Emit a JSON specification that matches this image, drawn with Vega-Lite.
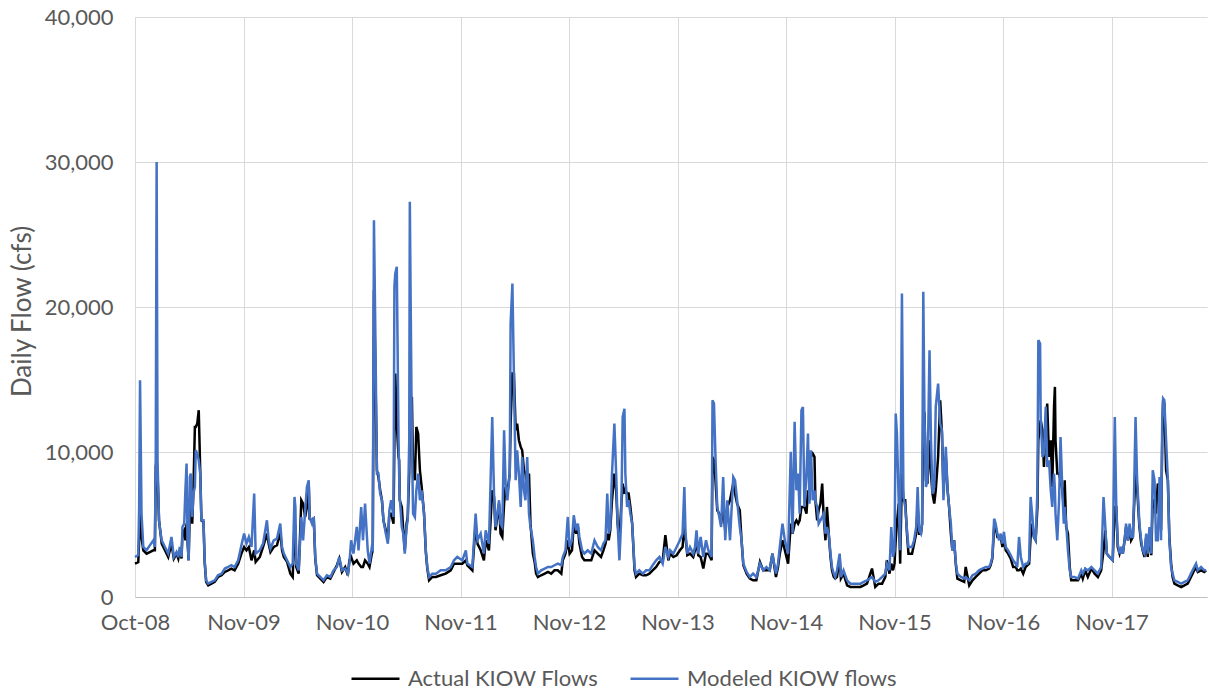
{
"$schema": "https://vega.github.io/schema/vega-lite/v6.json",
"width": 1072,
"height": 580,
"autosize": {"type": "none"},
"padding": {"left": 135, "top": 17, "right": 2, "bottom": 97},
"background": "white",
"config": {"view": {"stroke": null}, "font": "Lato"},
"data": {"values": [
{"date":"2008-10-31","actual":2300,"modeled":2760},
{"date":"2008-11-11","actual":2400,"modeled":2900},
{"date":"2008-11-14","actual":3900,"modeled":6200},
{"date":"2008-11-17","actual":6200,"modeled":14950},
{"date":"2008-11-22","actual":4140,"modeled":5750},
{"date":"2008-11-28","actual":3220,"modeled":3450},
{"date":"2008-12-09","actual":2990,"modeled":3220},
{"date":"2008-12-20","actual":3100,"modeled":3560},
{"date":"2009-01-01","actual":3220,"modeled":3910},
{"date":"2009-01-06","actual":3220,"modeled":3450},
{"date":"2009-01-09","actual":8970,"modeled":9660},
{"date":"2009-01-12","actual":9430,"modeled":30000},
{"date":"2009-01-15","actual":8510,"modeled":9430},
{"date":"2009-01-20","actual":5290,"modeled":5290},
{"date":"2009-01-24","actual":4600,"modeled":4600},
{"date":"2009-01-29","actual":3680,"modeled":3910},
{"date":"2009-02-09","actual":3220,"modeled":3450},
{"date":"2009-02-20","actual":2760,"modeled":2990},
{"date":"2009-03-03","actual":3680,"modeled":4140},
{"date":"2009-03-11","actual":2650,"modeled":2760},
{"date":"2009-03-20","actual":2990,"modeled":3100},
{"date":"2009-03-26","actual":2650,"modeled":2760},
{"date":"2009-03-31","actual":3220,"modeled":3450},
{"date":"2009-04-06","actual":2650,"modeled":2760},
{"date":"2009-04-09","actual":4370,"modeled":4830},
{"date":"2009-04-15","actual":4600,"modeled":5060},
{"date":"2009-04-19","actual":3910,"modeled":7360},
{"date":"2009-04-23","actual":5060,"modeled":9200},
{"date":"2009-04-26","actual":3910,"modeled":3910},
{"date":"2009-04-30","actual":2530,"modeled":2530},
{"date":"2009-05-04","actual":6210,"modeled":8280},
{"date":"2009-05-07","actual":5980,"modeled":8510},
{"date":"2009-05-12","actual":5060,"modeled":5520},
{"date":"2009-05-16","actual":7360,"modeled":7130},
{"date":"2009-05-21","actual":11730,"modeled":7590},
{"date":"2009-05-24","actual":11730,"modeled":10120},
{"date":"2009-05-29","actual":11960,"modeled":9890},
{"date":"2009-06-03","actual":12880,"modeled":9430},
{"date":"2009-06-08","actual":8740,"modeled":8510},
{"date":"2009-06-12","actual":5290,"modeled":5290},
{"date":"2009-06-19","actual":5180,"modeled":5290},
{"date":"2009-06-23","actual":2400,"modeled":2530},
{"date":"2009-06-28","actual":1040,"modeled":1150},
{"date":"2009-07-05","actual":800,"modeled":920},
{"date":"2009-07-16","actual":920,"modeled":1040},
{"date":"2009-07-27","actual":1040,"modeled":1150},
{"date":"2009-08-07","actual":1380,"modeled":1500},
{"date":"2009-08-19","actual":1500,"modeled":1610},
{"date":"2009-08-30","actual":1730,"modeled":1960},
{"date":"2009-09-10","actual":1840,"modeled":2070},
{"date":"2009-09-21","actual":1960,"modeled":2190},
{"date":"2009-10-02","actual":1840,"modeled":2070},
{"date":"2009-10-14","actual":2300,"modeled":2530},
{"date":"2009-10-25","actual":2990,"modeled":3570},
{"date":"2009-11-03","actual":3450,"modeled":4370},
{"date":"2009-11-11","actual":3220,"modeled":3680},
{"date":"2009-11-19","actual":3450,"modeled":4140},
{"date":"2009-11-28","actual":2530,"modeled":3450},
{"date":"2009-12-07","actual":3220,"modeled":7130},
{"date":"2009-12-12","actual":2420,"modeled":2990},
{"date":"2009-12-26","actual":2760,"modeled":3220},
{"date":"2010-01-06","actual":3450,"modeled":3680},
{"date":"2010-01-19","actual":4370,"modeled":5290},
{"date":"2010-01-25","actual":3680,"modeled":3910},
{"date":"2010-01-31","actual":3100,"modeled":3340},
{"date":"2010-02-11","actual":3450,"modeled":3910},
{"date":"2010-02-22","actual":3570,"modeled":4030},
{"date":"2010-03-05","actual":4490,"modeled":5060},
{"date":"2010-03-11","actual":3220,"modeled":3450},
{"date":"2010-03-17","actual":2760,"modeled":2990},
{"date":"2010-03-28","actual":2420,"modeled":2530},
{"date":"2010-04-08","actual":1610,"modeled":2070},
{"date":"2010-04-16","actual":1380,"modeled":2300},
{"date":"2010-04-22","actual":5060,"modeled":6900},
{"date":"2010-04-25","actual":4830,"modeled":6210},
{"date":"2010-04-28","actual":2070,"modeled":2300},
{"date":"2010-05-06","actual":1610,"modeled":1840},
{"date":"2010-05-15","actual":6670,"modeled":5520},
{"date":"2010-05-21","actual":6440,"modeled":3910},
{"date":"2010-05-28","actual":5520,"modeled":5980},
{"date":"2010-06-03","actual":6210,"modeled":7590},
{"date":"2010-06-09","actual":7820,"modeled":8050},
{"date":"2010-06-12","actual":5400,"modeled":5520},
{"date":"2010-06-20","actual":5290,"modeled":5060},
{"date":"2010-06-26","actual":5400,"modeled":5520},
{"date":"2010-07-01","actual":2650,"modeled":2760},
{"date":"2010-07-07","actual":1500,"modeled":1610},
{"date":"2010-07-18","actual":1270,"modeled":1380},
{"date":"2010-07-29","actual":1040,"modeled":1150},
{"date":"2010-08-09","actual":1380,"modeled":1500},
{"date":"2010-08-21","actual":1270,"modeled":1380},
{"date":"2010-09-01","actual":1730,"modeled":1840},
{"date":"2010-09-12","actual":2190,"modeled":2070},
{"date":"2010-09-20","actual":2650,"modeled":2760},
{"date":"2010-09-29","actual":1730,"modeled":1840},
{"date":"2010-10-10","actual":2070,"modeled":1960},
{"date":"2010-10-19","actual":1500,"modeled":1610},
{"date":"2010-10-24","actual":2530,"modeled":2300},
{"date":"2010-10-30","actual":2760,"modeled":3910},
{"date":"2010-11-07","actual":2300,"modeled":2990},
{"date":"2010-11-18","actual":2530,"modeled":4830},
{"date":"2010-11-24","actual":2300,"modeled":3220},
{"date":"2010-12-03","actual":2070,"modeled":6210},
{"date":"2010-12-09","actual":2070,"modeled":3910},
{"date":"2010-12-16","actual":2530,"modeled":6440},
{"date":"2010-12-25","actual":2300,"modeled":3220},
{"date":"2010-12-31","actual":2070,"modeled":2300},
{"date":"2011-01-08","actual":2990,"modeled":3450},
{"date":"2011-01-11","actual":3220,"modeled":3340},
{"date":"2011-01-15","actual":21160,"modeled":25990},
{"date":"2011-01-20","actual":15410,"modeled":17710},
{"date":"2011-01-25","actual":8740,"modeled":8510},
{"date":"2011-01-30","actual":8280,"modeled":8510},
{"date":"2011-02-05","actual":7360,"modeled":7130},
{"date":"2011-02-11","actual":6670,"modeled":6670},
{"date":"2011-02-16","actual":5290,"modeled":5290},
{"date":"2011-02-24","actual":4600,"modeled":4370},
{"date":"2011-03-03","actual":3910,"modeled":3680},
{"date":"2011-03-08","actual":5750,"modeled":5980},
{"date":"2011-03-14","actual":5750,"modeled":6670},
{"date":"2011-03-22","actual":5060,"modeled":5520},
{"date":"2011-03-25","actual":10810,"modeled":21390},
{"date":"2011-03-28","actual":15410,"modeled":22310},
{"date":"2011-04-02","actual":11960,"modeled":22770},
{"date":"2011-04-08","actual":9660,"modeled":10810},
{"date":"2011-04-10","actual":9430,"modeled":8510},
{"date":"2011-04-12","actual":6670,"modeled":6900},
{"date":"2011-04-19","actual":6210,"modeled":4830},
{"date":"2011-04-24","actual":4600,"modeled":4370},
{"date":"2011-04-29","actual":3220,"modeled":2990},
{"date":"2011-05-05","actual":5060,"modeled":4830},
{"date":"2011-05-09","actual":5520,"modeled":5290},
{"date":"2011-05-14","actual":8510,"modeled":10810},
{"date":"2011-05-16","actual":11960,"modeled":27250},
{"date":"2011-05-19","actual":13570,"modeled":20010},
{"date":"2011-05-23","actual":13800,"modeled":10810},
{"date":"2011-05-27","actual":8510,"modeled":5750},
{"date":"2011-06-02","actual":8050,"modeled":5520},
{"date":"2011-06-07","actual":11730,"modeled":7360},
{"date":"2011-06-13","actual":11270,"modeled":8510},
{"date":"2011-06-19","actual":8740,"modeled":6670},
{"date":"2011-06-25","actual":7590,"modeled":7360},
{"date":"2011-07-03","actual":5750,"modeled":5750},
{"date":"2011-07-09","actual":3100,"modeled":3220},
{"date":"2011-07-14","actual":1960,"modeled":2070},
{"date":"2011-07-20","actual":1150,"modeled":1380},
{"date":"2011-07-31","actual":1380,"modeled":1610},
{"date":"2011-08-12","actual":1380,"modeled":1610},
{"date":"2011-08-28","actual":1500,"modeled":1840},
{"date":"2011-09-14","actual":1610,"modeled":1840},
{"date":"2011-10-01","actual":1840,"modeled":2070},
{"date":"2011-10-12","actual":2300,"modeled":2530},
{"date":"2011-10-23","actual":2300,"modeled":2760},
{"date":"2011-11-09","actual":2300,"modeled":2530},
{"date":"2011-11-21","actual":2530,"modeled":3220},
{"date":"2011-11-26","actual":2190,"modeled":2300},
{"date":"2011-12-13","actual":1840,"modeled":2070},
{"date":"2011-12-24","actual":5060,"modeled":5750},
{"date":"2011-12-30","actual":3680,"modeled":3910},
{"date":"2012-01-10","actual":3220,"modeled":4370},
{"date":"2012-01-21","actual":2530,"modeled":2990},
{"date":"2012-01-27","actual":3910,"modeled":4600},
{"date":"2012-02-07","actual":3220,"modeled":3680},
{"date":"2012-02-18","actual":7360,"modeled":12420},
{"date":"2012-02-24","actual":6900,"modeled":7130},
{"date":"2012-02-29","actual":4600,"modeled":4830},
{"date":"2012-03-06","actual":5520,"modeled":5750},
{"date":"2012-03-12","actual":6440,"modeled":6670},
{"date":"2012-03-17","actual":4370,"modeled":5060},
{"date":"2012-03-23","actual":4140,"modeled":4830},
{"date":"2012-03-29","actual":6440,"modeled":11500},
{"date":"2012-04-03","actual":7590,"modeled":7820},
{"date":"2012-04-09","actual":7130,"modeled":6670},
{"date":"2012-04-17","actual":8510,"modeled":8510},
{"date":"2012-04-20","actual":11960,"modeled":18860},
{"date":"2012-04-26","actual":15410,"modeled":21620},
{"date":"2012-05-01","actual":15410,"modeled":15410},
{"date":"2012-05-07","actual":11500,"modeled":8050},
{"date":"2012-05-12","actual":11960,"modeled":10120},
{"date":"2012-05-18","actual":10810,"modeled":8510},
{"date":"2012-05-24","actual":10350,"modeled":6210},
{"date":"2012-05-29","actual":10120,"modeled":9660},
{"date":"2012-06-04","actual":8740,"modeled":7360},
{"date":"2012-06-09","actual":8510,"modeled":6670},
{"date":"2012-06-15","actual":7360,"modeled":9660},
{"date":"2012-06-21","actual":8510,"modeled":5750},
{"date":"2012-06-26","actual":5060,"modeled":4830},
{"date":"2012-07-04","actual":2990,"modeled":3910},
{"date":"2012-07-10","actual":2420,"modeled":2760},
{"date":"2012-07-15","actual":1610,"modeled":2070},
{"date":"2012-07-21","actual":1380,"modeled":1610},
{"date":"2012-08-01","actual":1500,"modeled":1840},
{"date":"2012-08-13","actual":1610,"modeled":1960},
{"date":"2012-08-24","actual":1730,"modeled":2070},
{"date":"2012-09-04","actual":1610,"modeled":2070},
{"date":"2012-09-15","actual":1840,"modeled":2190},
{"date":"2012-09-26","actual":1840,"modeled":2300},
{"date":"2012-10-08","actual":1610,"modeled":2190},
{"date":"2012-10-13","actual":2530,"modeled":2760},
{"date":"2012-10-22","actual":2990,"modeled":3220},
{"date":"2012-10-30","actual":3910,"modeled":5520},
{"date":"2012-11-05","actual":2990,"modeled":3450},
{"date":"2012-11-13","actual":3220,"modeled":3910},
{"date":"2012-11-19","actual":5060,"modeled":5640},
{"date":"2012-11-27","actual":4370,"modeled":4600},
{"date":"2012-12-03","actual":4830,"modeled":5060},
{"date":"2012-12-08","actual":3680,"modeled":4140},
{"date":"2012-12-17","actual":2760,"modeled":3220},
{"date":"2012-12-25","actual":2530,"modeled":2990},
{"date":"2013-01-05","actual":2530,"modeled":3220},
{"date":"2013-01-17","actual":2530,"modeled":2990},
{"date":"2013-01-28","actual":3220,"modeled":3910},
{"date":"2013-02-08","actual":2990,"modeled":3450},
{"date":"2013-02-19","actual":2760,"modeled":3220},
{"date":"2013-02-27","actual":3220,"modeled":3680},
{"date":"2013-03-06","actual":3680,"modeled":3910},
{"date":"2013-03-12","actual":4370,"modeled":7130},
{"date":"2013-03-17","actual":3910,"modeled":4370},
{"date":"2013-03-22","actual":4600,"modeled":4830},
{"date":"2013-03-28","actual":6670,"modeled":8510},
{"date":"2013-04-05","actual":8510,"modeled":11960},
{"date":"2013-04-11","actual":7360,"modeled":8510},
{"date":"2013-04-16","actual":5060,"modeled":5060},
{"date":"2013-04-22","actual":3910,"modeled":2530},
{"date":"2013-04-28","actual":6210,"modeled":5290},
{"date":"2013-05-03","actual":7820,"modeled":12420},
{"date":"2013-05-09","actual":7130,"modeled":12990},
{"date":"2013-05-12","actual":7360,"modeled":8510},
{"date":"2013-05-18","actual":7130,"modeled":6210},
{"date":"2013-05-23","actual":7130,"modeled":6670},
{"date":"2013-05-29","actual":6210,"modeled":5750},
{"date":"2013-06-04","actual":5060,"modeled":5060},
{"date":"2013-06-12","actual":1840,"modeled":2070},
{"date":"2013-06-17","actual":1380,"modeled":1610},
{"date":"2013-06-28","actual":1610,"modeled":1840},
{"date":"2013-07-10","actual":1500,"modeled":1610},
{"date":"2013-07-21","actual":1500,"modeled":1840},
{"date":"2013-08-01","actual":1610,"modeled":1840},
{"date":"2013-08-12","actual":1840,"modeled":2190},
{"date":"2013-08-24","actual":2070,"modeled":2530},
{"date":"2013-09-04","actual":2420,"modeled":2760},
{"date":"2013-09-15","actual":2530,"modeled":2300},
{"date":"2013-09-24","actual":4260,"modeled":3450},
{"date":"2013-10-04","actual":2530,"modeled":2760},
{"date":"2013-10-10","actual":2990,"modeled":3220},
{"date":"2013-10-21","actual":2760,"modeled":2990},
{"date":"2013-11-01","actual":2880,"modeled":3450},
{"date":"2013-11-12","actual":3220,"modeled":3910},
{"date":"2013-11-21","actual":3450,"modeled":4370},
{"date":"2013-11-27","actual":4830,"modeled":7590},
{"date":"2013-12-01","actual":4140,"modeled":4370},
{"date":"2013-12-07","actual":2880,"modeled":2990},
{"date":"2013-12-16","actual":2990,"modeled":3450},
{"date":"2013-12-27","actual":2760,"modeled":2990},
{"date":"2014-01-02","actual":3220,"modeled":3450},
{"date":"2014-01-07","actual":3910,"modeled":4600},
{"date":"2014-01-13","actual":2880,"modeled":2990},
{"date":"2014-01-21","actual":2760,"modeled":4140},
{"date":"2014-01-30","actual":1960,"modeled":2760},
{"date":"2014-02-08","actual":2990,"modeled":3910},
{"date":"2014-02-16","actual":2990,"modeled":3220},
{"date":"2014-02-27","actual":2530,"modeled":2760},
{"date":"2014-03-02","actual":9660,"modeled":13570},
{"date":"2014-03-07","actual":9430,"modeled":13340},
{"date":"2014-03-12","actual":8050,"modeled":9660},
{"date":"2014-03-18","actual":5980,"modeled":6210},
{"date":"2014-03-25","actual":5750,"modeled":5520},
{"date":"2014-03-31","actual":5060,"modeled":4830},
{"date":"2014-04-07","actual":6210,"modeled":8280},
{"date":"2014-04-14","actual":4600,"modeled":3910},
{"date":"2014-04-21","actual":6210,"modeled":6670},
{"date":"2014-04-30","actual":6670,"modeled":3910},
{"date":"2014-05-11","actual":7820,"modeled":8280},
{"date":"2014-05-17","actual":7130,"modeled":8050},
{"date":"2014-05-24","actual":6440,"modeled":6670},
{"date":"2014-06-02","actual":5980,"modeled":4830},
{"date":"2014-06-08","actual":3910,"modeled":3910},
{"date":"2014-06-14","actual":2190,"modeled":2300},
{"date":"2014-06-25","actual":1610,"modeled":1730},
{"date":"2014-07-06","actual":1270,"modeled":1380},
{"date":"2014-07-17","actual":1150,"modeled":1610},
{"date":"2014-07-28","actual":1150,"modeled":1380},
{"date":"2014-08-09","actual":2420,"modeled":2300},
{"date":"2014-08-20","actual":1840,"modeled":1840},
{"date":"2014-08-31","actual":1840,"modeled":2070},
{"date":"2014-09-11","actual":1840,"modeled":1840},
{"date":"2014-09-20","actual":2990,"modeled":2990},
{"date":"2014-10-02","actual":1380,"modeled":1610},
{"date":"2014-10-09","actual":2070,"modeled":2300},
{"date":"2014-10-15","actual":2990,"modeled":3450},
{"date":"2014-10-24","actual":3910,"modeled":5060},
{"date":"2014-11-01","actual":3220,"modeled":3910},
{"date":"2014-11-12","actual":2300,"modeled":2990},
{"date":"2014-11-21","actual":5060,"modeled":10010},
{"date":"2014-11-27","actual":4370,"modeled":4370},
{"date":"2014-12-04","actual":5060,"modeled":12080},
{"date":"2014-12-10","actual":5290,"modeled":7360},
{"date":"2014-12-16","actual":5060,"modeled":8510},
{"date":"2014-12-21","actual":5290,"modeled":5750},
{"date":"2014-12-27","actual":6210,"modeled":12880},
{"date":"2015-01-01","actual":6210,"modeled":13110},
{"date":"2015-01-06","actual":6210,"modeled":6210},
{"date":"2015-01-13","actual":5750,"modeled":8510},
{"date":"2015-01-18","actual":7360,"modeled":11270},
{"date":"2015-01-23","actual":6670,"modeled":6440},
{"date":"2015-01-28","actual":9660,"modeled":10120},
{"date":"2015-02-03","actual":9890,"modeled":6670},
{"date":"2015-02-09","actual":9660,"modeled":7360},
{"date":"2015-02-12","actual":6670,"modeled":6670},
{"date":"2015-02-18","actual":5290,"modeled":6210},
{"date":"2015-02-23","actual":5980,"modeled":5060},
{"date":"2015-03-01","actual":6440,"modeled":5290},
{"date":"2015-03-07","actual":7820,"modeled":5520},
{"date":"2015-03-12","actual":5520,"modeled":5750},
{"date":"2015-03-18","actual":3910,"modeled":4370},
{"date":"2015-03-23","actual":6210,"modeled":4830},
{"date":"2015-03-29","actual":4370,"modeled":4370},
{"date":"2015-04-04","actual":2760,"modeled":2990},
{"date":"2015-04-09","actual":1840,"modeled":2070},
{"date":"2015-04-15","actual":1380,"modeled":1610},
{"date":"2015-04-20","actual":1270,"modeled":1380},
{"date":"2015-04-26","actual":1380,"modeled":1840},
{"date":"2015-05-05","actual":2760,"modeled":2990},
{"date":"2015-05-09","actual":1270,"modeled":1380},
{"date":"2015-05-18","actual":1610,"modeled":1840},
{"date":"2015-05-30","actual":800,"modeled":1150},
{"date":"2015-06-10","actual":690,"modeled":920},
{"date":"2015-06-21","actual":690,"modeled":920},
{"date":"2015-07-02","actual":690,"modeled":920},
{"date":"2015-07-14","actual":690,"modeled":920},
{"date":"2015-07-25","actual":800,"modeled":1040},
{"date":"2015-08-05","actual":920,"modeled":1150},
{"date":"2015-08-22","actual":1960,"modeled":1380},
{"date":"2015-09-02","actual":690,"modeled":1040},
{"date":"2015-09-13","actual":920,"modeled":1150},
{"date":"2015-09-25","actual":920,"modeled":1380},
{"date":"2015-10-06","actual":1380,"modeled":1610},
{"date":"2015-10-11","actual":2530,"modeled":2300},
{"date":"2015-10-20","actual":1610,"modeled":1840},
{"date":"2015-10-26","actual":2300,"modeled":4830},
{"date":"2015-11-01","actual":1840,"modeled":2760},
{"date":"2015-11-06","actual":2300,"modeled":3220},
{"date":"2015-11-10","actual":3910,"modeled":12650},
{"date":"2015-11-14","actual":5060,"modeled":11270},
{"date":"2015-11-20","actual":6440,"modeled":6670},
{"date":"2015-11-25","actual":2300,"modeled":3220},
{"date":"2015-12-01","actual":8510,"modeled":20930},
{"date":"2015-12-06","actual":6670,"modeled":6900},
{"date":"2015-12-12","actual":6670,"modeled":6210},
{"date":"2015-12-18","actual":4370,"modeled":4600},
{"date":"2015-12-23","actual":2990,"modeled":3450},
{"date":"2016-01-04","actual":2990,"modeled":3450},
{"date":"2016-01-11","actual":3680,"modeled":3910},
{"date":"2016-01-18","actual":4370,"modeled":4830},
{"date":"2016-01-23","actual":6210,"modeled":7590},
{"date":"2016-01-28","actual":4370,"modeled":4600},
{"date":"2016-02-03","actual":4370,"modeled":4370},
{"date":"2016-02-07","actual":5060,"modeled":5060},
{"date":"2016-02-11","actual":12650,"modeled":21050},
{"date":"2016-02-15","actual":12650,"modeled":12420},
{"date":"2016-02-20","actual":8050,"modeled":7590},
{"date":"2016-02-25","actual":7820,"modeled":8050},
{"date":"2016-03-03","actual":10810,"modeled":17020},
{"date":"2016-03-08","actual":8510,"modeled":10810},
{"date":"2016-03-13","actual":7130,"modeled":7130},
{"date":"2016-03-19","actual":6440,"modeled":7590},
{"date":"2016-03-24","actual":7360,"modeled":13110},
{"date":"2016-04-01","actual":9660,"modeled":14720},
{"date":"2016-04-08","actual":13570,"modeled":11960},
{"date":"2016-04-14","actual":11270,"modeled":11500},
{"date":"2016-04-19","actual":7360,"modeled":6670},
{"date":"2016-04-27","actual":9660,"modeled":10350},
{"date":"2016-05-03","actual":7360,"modeled":7360},
{"date":"2016-05-08","actual":6210,"modeled":6210},
{"date":"2016-05-14","actual":4370,"modeled":5060},
{"date":"2016-05-19","actual":3220,"modeled":3220},
{"date":"2016-05-25","actual":3910,"modeled":3910},
{"date":"2016-05-31","actual":2190,"modeled":2300},
{"date":"2016-06-05","actual":1270,"modeled":1610},
{"date":"2016-06-17","actual":1150,"modeled":1380},
{"date":"2016-06-28","actual":1040,"modeled":1270},
{"date":"2016-07-03","actual":2070,"modeled":1380},
{"date":"2016-07-15","actual":800,"modeled":1150},
{"date":"2016-07-26","actual":1150,"modeled":1500},
{"date":"2016-08-06","actual":1380,"modeled":1610},
{"date":"2016-08-17","actual":1610,"modeled":1840},
{"date":"2016-08-28","actual":1840,"modeled":1960},
{"date":"2016-09-09","actual":1840,"modeled":2070},
{"date":"2016-09-20","actual":1960,"modeled":2070},
{"date":"2016-09-25","actual":2190,"modeled":2300},
{"date":"2016-10-01","actual":2650,"modeled":2760},
{"date":"2016-10-07","actual":4830,"modeled":5400},
{"date":"2016-10-12","actual":4830,"modeled":5060},
{"date":"2016-10-18","actual":4140,"modeled":4370},
{"date":"2016-10-24","actual":4140,"modeled":3910},
{"date":"2016-10-29","actual":4140,"modeled":4370},
{"date":"2016-11-04","actual":3450,"modeled":3680},
{"date":"2016-11-09","actual":4140,"modeled":4490},
{"date":"2016-11-15","actual":3220,"modeled":3450},
{"date":"2016-11-23","actual":2990,"modeled":3220},
{"date":"2016-12-02","actual":2650,"modeled":2880},
{"date":"2016-12-10","actual":2070,"modeled":2530},
{"date":"2016-12-19","actual":2070,"modeled":2300},
{"date":"2016-12-24","actual":1840,"modeled":2070},
{"date":"2016-12-30","actual":1840,"modeled":4140},
{"date":"2017-01-05","actual":1960,"modeled":2760},
{"date":"2017-01-13","actual":1610,"modeled":2070},
{"date":"2017-01-21","actual":2070,"modeled":2300},
{"date":"2017-01-27","actual":2190,"modeled":2300},
{"date":"2017-02-02","actual":2300,"modeled":2530},
{"date":"2017-02-07","actual":4140,"modeled":6900},
{"date":"2017-02-13","actual":5060,"modeled":5520},
{"date":"2017-02-18","actual":4140,"modeled":4140},
{"date":"2017-02-24","actual":3910,"modeled":3910},
{"date":"2017-03-02","actual":6210,"modeled":7360},
{"date":"2017-03-05","actual":10810,"modeled":17710},
{"date":"2017-03-11","actual":11960,"modeled":17480},
{"date":"2017-03-13","actual":12190,"modeled":12420},
{"date":"2017-03-19","actual":11500,"modeled":9660},
{"date":"2017-03-24","actual":8970,"modeled":9890},
{"date":"2017-03-30","actual":11960,"modeled":13110},
{"date":"2017-04-04","actual":13340,"modeled":8970},
{"date":"2017-04-10","actual":9660,"modeled":9430},
{"date":"2017-04-16","actual":10810,"modeled":7360},
{"date":"2017-04-21","actual":7590,"modeled":6210},
{"date":"2017-04-27","actual":13110,"modeled":8510},
{"date":"2017-04-30","actual":14490,"modeled":7360},
{"date":"2017-05-02","actual":10810,"modeled":5750},
{"date":"2017-05-08","actual":8510,"modeled":3910},
{"date":"2017-05-14","actual":8510,"modeled":6670},
{"date":"2017-05-19","actual":8050,"modeled":11040},
{"date":"2017-05-25","actual":7360,"modeled":7360},
{"date":"2017-05-30","actual":6210,"modeled":5060},
{"date":"2017-06-02","actual":8050,"modeled":6210},
{"date":"2017-06-07","actual":4830,"modeled":5060},
{"date":"2017-06-13","actual":4370,"modeled":3220},
{"date":"2017-06-19","actual":2070,"modeled":1840},
{"date":"2017-06-24","actual":1150,"modeled":1380},
{"date":"2017-07-05","actual":1150,"modeled":1380},
{"date":"2017-07-17","actual":1150,"modeled":1270},
{"date":"2017-07-28","actual":1610,"modeled":1840},
{"date":"2017-08-02","actual":1270,"modeled":1610},
{"date":"2017-08-10","actual":1840,"modeled":1960},
{"date":"2017-08-19","actual":1380,"modeled":1840},
{"date":"2017-08-31","actual":1960,"modeled":2070},
{"date":"2017-09-11","actual":1610,"modeled":1840},
{"date":"2017-09-22","actual":1380,"modeled":1610},
{"date":"2017-10-03","actual":1840,"modeled":2070},
{"date":"2017-10-11","actual":3220,"modeled":6900},
{"date":"2017-10-17","actual":4600,"modeled":4830},
{"date":"2017-10-22","actual":2990,"modeled":2990},
{"date":"2017-10-31","actual":2760,"modeled":2760},
{"date":"2017-11-11","actual":2530,"modeled":2530},
{"date":"2017-11-18","actual":6210,"modeled":12420},
{"date":"2017-11-23","actual":6210,"modeled":6210},
{"date":"2017-11-28","actual":3450,"modeled":3680},
{"date":"2017-12-04","actual":2990,"modeled":2990},
{"date":"2017-12-10","actual":3450,"modeled":3450},
{"date":"2017-12-15","actual":2990,"modeled":2990},
{"date":"2017-12-21","actual":3910,"modeled":3910},
{"date":"2017-12-26","actual":4830,"modeled":5060},
{"date":"2018-01-01","actual":3910,"modeled":3910},
{"date":"2018-01-07","actual":4830,"modeled":5060},
{"date":"2018-01-12","actual":3910,"modeled":4140},
{"date":"2018-01-18","actual":4140,"modeled":4140},
{"date":"2018-01-21","actual":5750,"modeled":6210},
{"date":"2018-01-27","actual":8510,"modeled":12420},
{"date":"2018-02-01","actual":7590,"modeled":8280},
{"date":"2018-02-09","actual":4830,"modeled":5060},
{"date":"2018-02-15","actual":3680,"modeled":3910},
{"date":"2018-02-20","actual":3220,"modeled":3220},
{"date":"2018-02-26","actual":2760,"modeled":2990},
{"date":"2018-03-04","actual":4140,"modeled":4370},
{"date":"2018-03-09","actual":2760,"modeled":2990},
{"date":"2018-03-15","actual":4600,"modeled":4830},
{"date":"2018-03-21","actual":2880,"modeled":2990},
{"date":"2018-03-26","actual":6670,"modeled":8740},
{"date":"2018-04-01","actual":6440,"modeled":8050},
{"date":"2018-04-06","actual":5750,"modeled":3910},
{"date":"2018-04-12","actual":7820,"modeled":3910},
{"date":"2018-04-18","actual":7360,"modeled":8280},
{"date":"2018-04-23","actual":4600,"modeled":3910},
{"date":"2018-04-27","actual":10810,"modeled":12190},
{"date":"2018-04-30","actual":13570,"modeled":13690},
{"date":"2018-05-04","actual":13340,"modeled":13570},
{"date":"2018-05-10","actual":8740,"modeled":10810},
{"date":"2018-05-16","actual":8050,"modeled":8050},
{"date":"2018-05-21","actual":4140,"modeled":3910},
{"date":"2018-05-27","actual":2300,"modeled":2070},
{"date":"2018-06-01","actual":1380,"modeled":1610},
{"date":"2018-06-07","actual":920,"modeled":1150},
{"date":"2018-06-18","actual":800,"modeled":1040},
{"date":"2018-06-30","actual":690,"modeled":920},
{"date":"2018-07-11","actual":800,"modeled":1040},
{"date":"2018-07-22","actual":920,"modeled":1150},
{"date":"2018-08-02","actual":1380,"modeled":1610},
{"date":"2018-08-13","actual":1840,"modeled":2070},
{"date":"2018-08-19","actual":2070,"modeled":2300},
{"date":"2018-08-25","actual":1730,"modeled":1840},
{"date":"2018-09-05","actual":1840,"modeled":2070},
{"date":"2018-09-16","actual":1730,"modeled":1840},
{"date":"2018-09-22","actual":1840,"modeled":1840}
]},
"transform": [{"fold": ["actual", "modeled"], "as": ["series", "flow"]}],
"encoding": {
  "x": {
    "field": "date", "type": "temporal",
    "scale": {"type": "utc", "domain": [{"year": 2008, "month": 10, "date": 31, "utc": true}, {"year": 2018, "month": 9, "date": 25, "utc": true}]},
    "axis": {
      "title": null,
      "values": [
        {"year": 2008, "month": 10, "date": 31, "utc": true},
        {"year": 2009, "month": 11, "date": 1, "utc": true},
        {"year": 2010, "month": 11, "date": 2, "utc": true},
        {"year": 2011, "month": 11, "date": 3, "utc": true},
        {"year": 2012, "month": 11, "date": 3, "utc": true},
        {"year": 2013, "month": 11, "date": 4, "utc": true},
        {"year": 2014, "month": 11, "date": 5, "utc": true},
        {"year": 2015, "month": 11, "date": 6, "utc": true},
        {"year": 2016, "month": 11, "date": 6, "utc": true},
        {"year": 2017, "month": 11, "date": 7, "utc": true}
      ],
      "labelExpr": "utcFormat(datum.value, '%b-%y')",
      "labelFlush": false, "labelOverlap": false, "labelBound": false,
      "labelFont": "Lato", "labelFontSize": 22, "labelColor": "#595959",
      "labelPadding": 15, "labelBaseline": "top",
      "ticks": false, "domain": true, "domainColor": "#BFBFBF", "domainWidth": 1,
      "grid": true, "gridColor": "#D9D9D9", "gridWidth": 1
    }
  },
  "y": {
    "field": "flow", "type": "quantitative",
    "scale": {"domain": [0, 40000], "nice": false},
    "axis": {
      "title": "Daily Flow (cfs)",
      "values": [0, 10000, 20000, 30000, 40000],
      "labelExpr": "format(datum.value, ',')",
      "labelFont": "Lato", "labelFontSize": 22, "labelColor": "#595959",
      "labelPadding": 22,
      "ticks": false, "domain": false,
      "grid": true, "gridColor": "#D9D9D9", "gridWidth": 1,
      "titleFont": "Lato", "titleFontSize": 26, "titleFontWeight": "normal", "titleColor": "#595959",
      "titleAngle": -90, "titleX": -113, "titleY": 294, "titleAlign": "center", "titleBaseline": "middle"
    }
  },
  "color": {
    "field": "series", "type": "nominal",
    "scale": {"domain": ["actual", "modeled"], "range": ["#000000", "#4472C4"]},
    "legend": {
      "title": null,
      "orient": "none", "legendX": 215, "legendY": 636,
      "direction": "horizontal",
      "symbolType": "stroke", "symbolSize": 2304, "symbolStrokeWidth": 2.5,
      "labelExpr": "datum.label == 'actual' ? 'Actual KIOW Flows' : 'Modeled KIOW flows'",
      "labelFont": "Lato", "labelFontSize": 22, "labelColor": "#595959", "labelLimit": 400,
      "labelOffset": 7, "columnPadding": 26, "padding": 0
    }
  }
},
"layer": [
  {"transform": [{"filter": "datum.series == 'actual'"}], "mark": {"type": "line", "strokeWidth": 2.5}},
  {"transform": [{"filter": "datum.series == 'modeled'"}], "mark": {"type": "line", "strokeWidth": 2.5}}
]
}
